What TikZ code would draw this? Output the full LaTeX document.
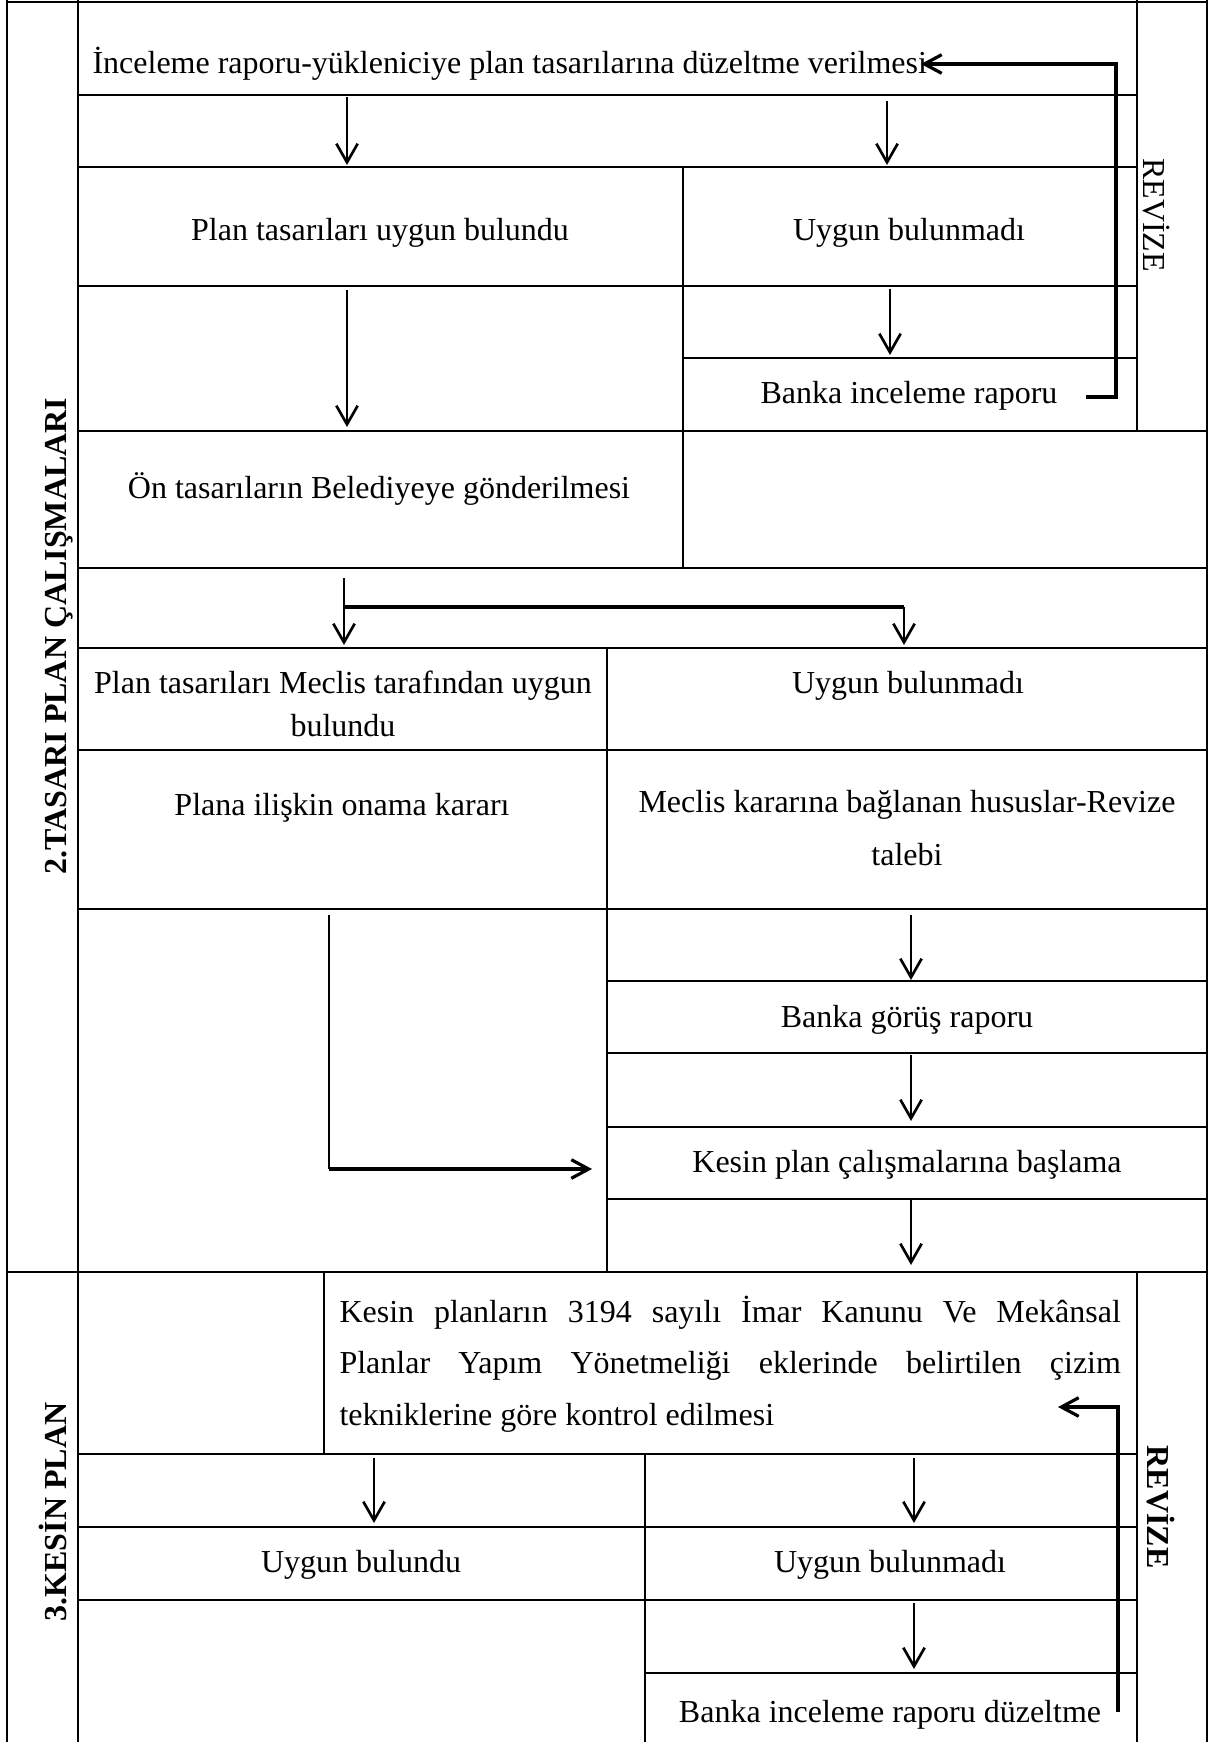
\documentclass[tikz,border=0pt]{standalone}
\usepackage{fontspec}
\setmainfont{Liberation Serif}
\usetikzlibrary{arrows.meta}
\begin{document}
\begin{tikzpicture}[x=0.375pt,y=-0.375pt,
  grid/.style={line width=0.85pt},
  plain/.style={line width=1pt},
  arr/.style={line width=1pt,-{Straight Barb[length=7pt,width=8pt,line width=1pt]}},
  fb/.style={line width=1.4pt},
  fbarr/.style={line width=1.4pt,-{Straight Barb[length=6.5pt,width=7pt,line width=1.2pt]}},
  txt/.style={inner sep=0pt,font=\fontsize{12}{14}\selectfont,anchor=base},
  lbl/.style={inner sep=0pt,font=\fontsize{12}{14}\selectfont\bfseries,anchor=base}]
\useasboundingbox (0,0) rectangle (1208,1742);
% ---- table grid ----
\draw[grid] (7,0) -- (7,1742);
\draw[grid] (78,0) -- (78,1742);
\draw[grid] (1137,0) -- (1137,431);
\draw[grid] (1137,1272) -- (1137,1742);
\draw[line width=0.5pt] (1207,0) -- (1207,1742);
\draw[grid] (683,167) -- (683,568);
\draw[grid] (607,648) -- (607,1272);
\draw[grid] (324,1272) -- (324,1454);
\draw[grid] (645,1454) -- (645,1742);
\draw[grid] (7,2) -- (1207,2);
\draw[grid] (78,95) -- (1137,95);
\draw[grid] (78,167) -- (1137,167);
\draw[grid] (78,286) -- (1137,286);
\draw[grid] (683,358) -- (1137,358);
\draw[grid] (78,431) -- (1207,431);
\draw[grid] (78,568) -- (1207,568);
\draw[grid] (78,648) -- (1207,648);
\draw[grid] (78,750) -- (1207,750);
\draw[grid] (78,909) -- (1207,909);
\draw[grid] (607,981) -- (1207,981);
\draw[grid] (607,1053) -- (1207,1053);
\draw[grid] (607,1127) -- (1207,1127);
\draw[grid] (607,1199) -- (1207,1199);
\draw[grid] (7,1272) -- (1207,1272);
\draw[grid] (78,1454) -- (1137,1454);
\draw[grid] (78,1527) -- (1137,1527);
\draw[grid] (78,1600) -- (1137,1600);
\draw[grid] (645,1673) -- (1137,1673);
% ---- texts ----
\node[txt,anchor=base west] (t1) at (92,73) {İnceleme raporu-yükleniciye plan tasarılarına düzeltme verilmesi};
\node[txt] (t2) at (380,240) {Plan tasarıları uygun bulundu};
\node[txt] (t3) at (909,240) {Uygun bulunmadı};
\node[txt] (t4) at (909,403) {Banka inceleme raporu};
\node[txt] (t5) at (379,498) {Ön tasarıların Belediyeye gönderilmesi};
\node[txt] (t6a) at (343,693) {Plan tasarıları Meclis tarafından uygun};
\node[txt] (t6b) at (343,736) {bulundu};
\node[txt] (t7) at (908,693) {Uygun bulunmadı};
\node[txt] (t8) at (342,815) {Plana ilişkin onama kararı};
\node[txt] (t9a) at (907,812) {Meclis kararına bağlanan hususlar-Revize};
\node[txt] (t9b) at (907,865) {talebi};
\node[txt] (t10) at (907,1027) {Banka görüş raporu};
\node[txt] (t11) at (907,1172) {Kesin plan çalışmalarına başlama};
\node[txt,anchor=base west] (k1) at (339,1322) {\makebox[293pt][s]{Kesin planların 3194 sayılı İmar Kanunu Ve Mekânsal}};
\node[txt,anchor=base west] (k2) at (339,1373) {\makebox[293pt][s]{Planlar Yapım Yönetmeliği eklerinde belirtilen çizim}};
\node[txt,anchor=base west] (k3) at (339,1425) {tekniklerine göre kontrol edilmesi};
\node[txt] (t12) at (361,1572) {Uygun bulundu};
\node[txt] (t13) at (890,1572) {Uygun bulunmadı};
\node[txt] (t14) at (890,1722) {Banka inceleme raporu düzeltme};
% ---- side labels ----
\node[lbl,rotate=90] (s2) at (66,636) {2.TASARI PLAN ÇALIŞMALARI};
\node[lbl,rotate=90] (s3) at (67,1512) {3.KESİN PLAN};
\node[txt,rotate=-90] (r1) at (1143,215) {REVİZE};
\node[lbl,rotate=-90] (r2) at (1147,1507) {REVİZE};
% ---- arrow end points ----
\coordinate (a1s) at (347,97);   \coordinate (a1e) at (347,165);
\coordinate (a2s) at (887,101);  \coordinate (a2e) at (887,165);
\coordinate (a3s) at (347,290);  \coordinate (a3e) at (347,427);
\coordinate (a4s) at (890,289);  \coordinate (a4e) at (890,355);
\coordinate (f1a) at (1086,397); \coordinate (f1b) at (1116,397);
\coordinate (f1c) at (1116,64);  \coordinate (f1d) at (921,64);
\coordinate (a5s) at (344,578);  \coordinate (a5m) at (344,607);
\coordinate (a5e) at (344,645);  \coordinate (a5r) at (904,607);
\coordinate (a5f) at (904,645);
\coordinate (a6s) at (329,915);  \coordinate (a6m) at (329,1169);
\coordinate (a6e) at (592,1169);
\coordinate (a7s) at (911,915);  \coordinate (a7e) at (911,980);
\coordinate (a8s) at (911,1055); \coordinate (a8e) at (911,1121);
\coordinate (a9s) at (911,1200); \coordinate (a9e) at (911,1265);
\coordinate (a10s) at (374,1458); \coordinate (a10e) at (374,1523);
\coordinate (a11s) at (914,1458); \coordinate (a11e) at (914,1523);
\coordinate (a12s) at (914,1603); \coordinate (a12e) at (914,1669);
\coordinate (f2a) at (1118,1712); \coordinate (f2b) at (1118,1407);
\coordinate (f2c) at (1058,1407);
% ---- arrows ----
\draw[arr] (a1s) -- (a1e);
\draw[arr] (a2s) -- (a2e);
\draw[arr] (a3s) -- (a3e);
\draw[arr] (a4s) -- (a4e);
\draw[fbarr] (f1a) -- (f1b) -- (f1c) -- (f1d);
\draw[arr] (a5s) -- (a5e);
\draw[fb] (a5m) -- (a5r);
\draw[arr] (a5r) -- (a5f);
\draw[plain] (a6s) -- (a6m);
\draw[fbarr] (a6m) -- (a6e);
\draw[arr] (a7s) -- (a7e);
\draw[arr] (a8s) -- (a8e);
\draw[arr] (a9s) -- (a9e);
\draw[arr] (a10s) -- (a10e);
\draw[arr] (a11s) -- (a11e);
\draw[arr] (a12s) -- (a12e);
\draw[fbarr] (f2a) -- (f2b) -- (f2c);
\end{tikzpicture}
\end{document}
